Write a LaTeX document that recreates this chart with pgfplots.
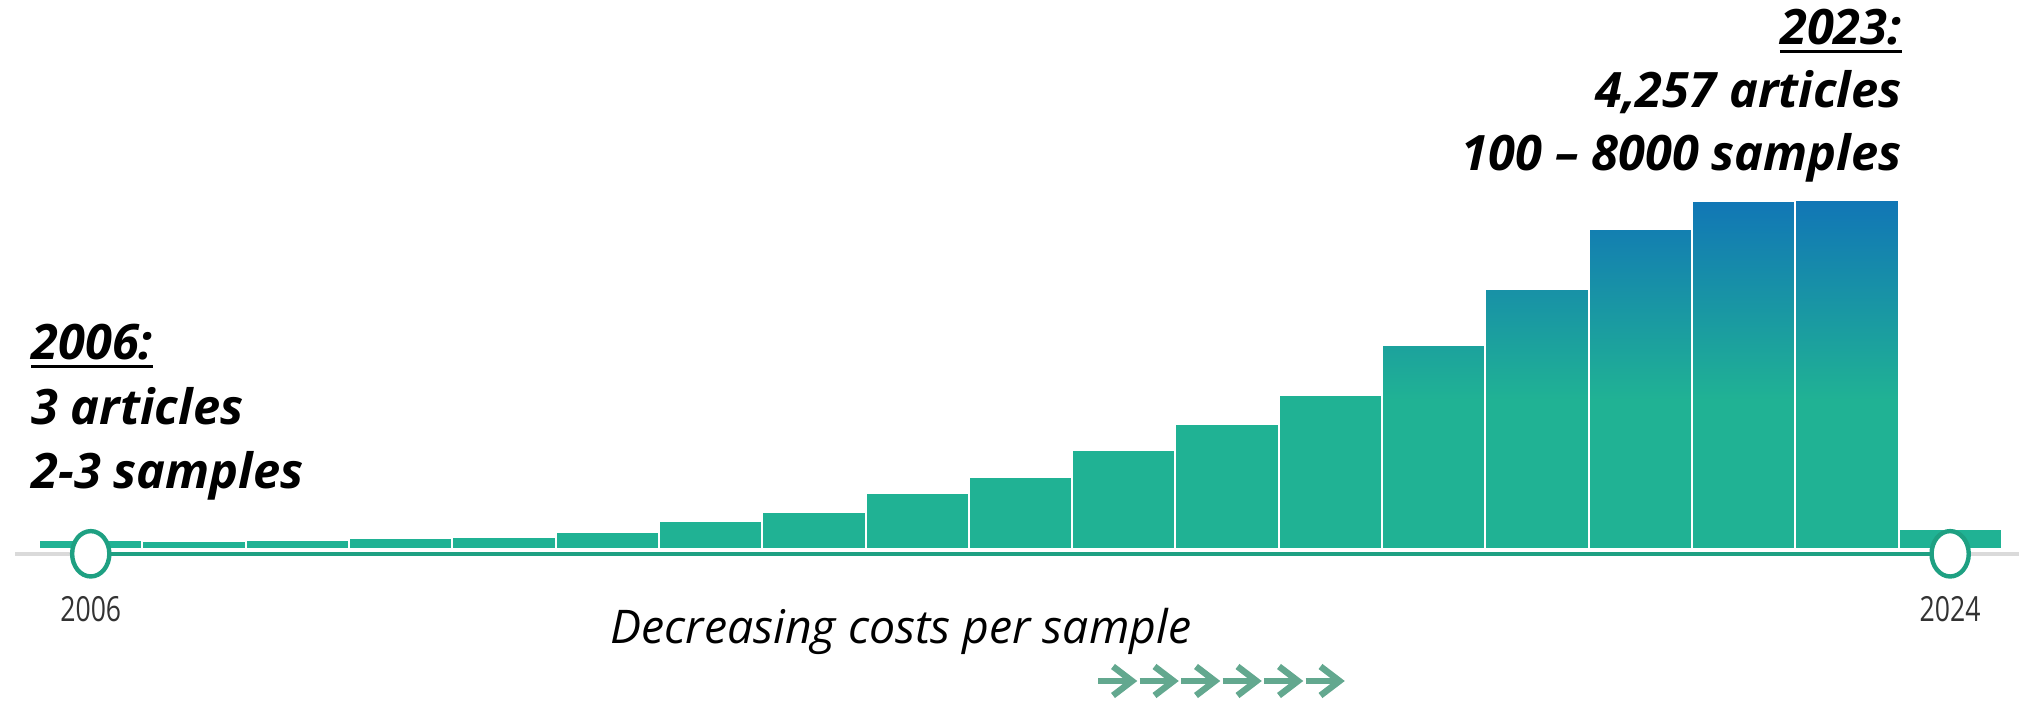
\documentclass[border=0pt]{standalone}
\usepackage{pgfplots}
\usepackage{pgfplotstable}
\pgfplotsset{compat=1.18}
\usepackage{fontspec}
\setmainfont{Open Sans}

\definecolor{bargreen}{RGB}{32,178,148}
\definecolor{barblue}{RGB}{17,118,182}
\definecolor{slider}{RGB}{30,160,130}
\definecolor{railgrey}{RGB}{218,218,218}
\definecolor{arrowgreen}{RGB}{99,168,143}
\definecolor{ticktext}{RGB}{51,51,51}

% colour reached at the top of each tall bar (one gradient over the chart height)
\colorlet{top2019}{barblue!27!bargreen}
\colorlet{top2020}{barblue!55!bargreen}
\colorlet{top2021}{barblue!85!bargreen}
\colorlet{top2022}{barblue!99!bargreen}
\colorlet{top2023}{barblue}
% bar bottom sits at 25bp, bar top at 75bp
\pgfdeclareverticalshading{bar2019}{100bp}{color(0bp)=(bargreen); color(61.5bp)=(bargreen); color(75bp)=(top2019); color(100bp)=(top2019)}
\pgfdeclareverticalshading{bar2020}{100bp}{color(0bp)=(bargreen); color(53.7bp)=(bargreen); color(75bp)=(top2020); color(100bp)=(top2020)}
\pgfdeclareverticalshading{bar2021}{100bp}{color(0bp)=(bargreen); color(48.3bp)=(bargreen); color(75bp)=(top2021); color(100bp)=(top2021)}
\pgfdeclareverticalshading{bar2022}{100bp}{color(0bp)=(bargreen); color(46.4bp)=(bargreen); color(75bp)=(top2022); color(100bp)=(top2022)}
\pgfdeclareverticalshading{bar2023}{100bp}{color(0bp)=(bargreen); color(46.3bp)=(bargreen); color(75bp)=(top2023); color(100bp)=(top2023)}

% articles per publication year
\pgfplotstableread{
year articles
2006 3
2007 2
2008 3
2009 4
2010 5
2011 10
2012 27
2013 48
2014 111
2015 180
2016 343
2017 546
2018 829
2019 1455
2020 2357
2021 3572
2022 4240
2023 4257
2024 14
}\articles

\pgfplotsset{
  yearbar/.style={ybar, bar width=1, bar shift=0pt, draw=white, line width=1pt},
}
\newcommand\notefont{\bfseries\itshape\fontsize{24.4}{29}\selectfont}

\begin{document}
\begin{tikzpicture}[x=0.5pt,y=0.5pt]
\useasboundingbox (0,0) rectangle (2020,702);
\begin{axis}[
  at={(19.55pt,76.5pt)}, anchor=south west,
  scale only axis, width=981.35pt, height=213.96pt,
  xmin=2005.5, xmax=2024.5, ymin=0, ymax=6400,
  y coord trafo/.code={\pgfmathparse{sqrt(#1)}},
  y coord inv trafo/.code={\pgfmathparse{(#1)^2}},
  axis line style={draw=none},
  xtick={2006,2024}, xticklabels={\scalebox{1}[1.3]{2006},\scalebox{1}[1.3]{2024}},
  ytick=\empty,
  major tick length=0pt,
  xticklabel style={anchor=base, yshift=-36pt, text=ticktext, font=\fontsize{13.3}{16}\selectfont},
  clip=false,
]
% rail outside the selected range
\addplot[railgrey, line width=2pt, yshift=-2.4pt] coordinates {(2005.27,0) (2006,0)};
\addplot[railgrey, line width=2pt, yshift=-2.4pt] coordinates {(2024,0) (2024.67,0)};
% all years
\addplot[yearbar, fill=bargreen] table[x=year, y=articles] {\articles};
% tall years carry the green-to-blue gradient
\addplot[yearbar, shade, shading=bar2019, restrict x to domain=2018.5:2019.5] table[x=year, y=articles] {\articles};
\addplot[yearbar, shade, shading=bar2020, restrict x to domain=2019.5:2020.5] table[x=year, y=articles] {\articles};
\addplot[yearbar, shade, shading=bar2021, restrict x to domain=2020.5:2021.5] table[x=year, y=articles] {\articles};
\addplot[yearbar, shade, shading=bar2022, restrict x to domain=2021.5:2022.5] table[x=year, y=articles] {\articles};
\addplot[yearbar, shade, shading=bar2023, restrict x to domain=2022.5:2023.5] table[x=year, y=articles] {\articles};
% selected range with its two handles
\addplot[slider, line width=2.15pt, yshift=-2.4pt, mark=*, mark size=9.3pt,
  mark options={fill=white, draw=slider, line width=2.2pt, yscale=1.22}] coordinates {(2006,0) (2024,0)};
\end{axis}

% first year
\node[anchor=base west, inner sep=0, font=\notefont] (y06) at (31,342) {2006:};
\draw[line width=1.5pt] ([yshift=-3.5pt]y06.base west) -- ([yshift=-3.5pt]y06.base east);
\node[anchor=base west, inner sep=0, font=\notefont] at (31,277.5) {3 articles};
\node[anchor=base west, inner sep=0, font=\notefont] at (31,213) {2-3 samples};

% last full year
\node[anchor=base east, inner sep=0, font=\notefont] (y23) at (1902,657) {2023:};
\draw[line width=1.5pt] ([yshift=-3.5pt]y23.base west) -- ([yshift=-3.5pt]y23.base east);
\node[anchor=base east, inner sep=0, font=\notefont] at (1902,594) {4,257 articles};
\node[anchor=base east, inner sep=0, font=\notefont] at (1902,531) {100 – 8000 samples};

% cost trend
\node[anchor=base, inner sep=0, font=\itshape\fontsize{23.2}{28}\selectfont] at (901,58) {Decreasing costs per sample};
\foreach \i in {0,...,5} {
  \begin{scope}[shift={(1098+41.5*\i,21)}]
    \draw[arrowgreen, line width=3.2pt] (0,0) -- (33,0);
    \draw[arrowgreen, line width=3.2pt, miter limit=4] (15,14.5) -- (34,0) -- (15,-14.5);
  \end{scope}
}
\end{tikzpicture}
\end{document}
